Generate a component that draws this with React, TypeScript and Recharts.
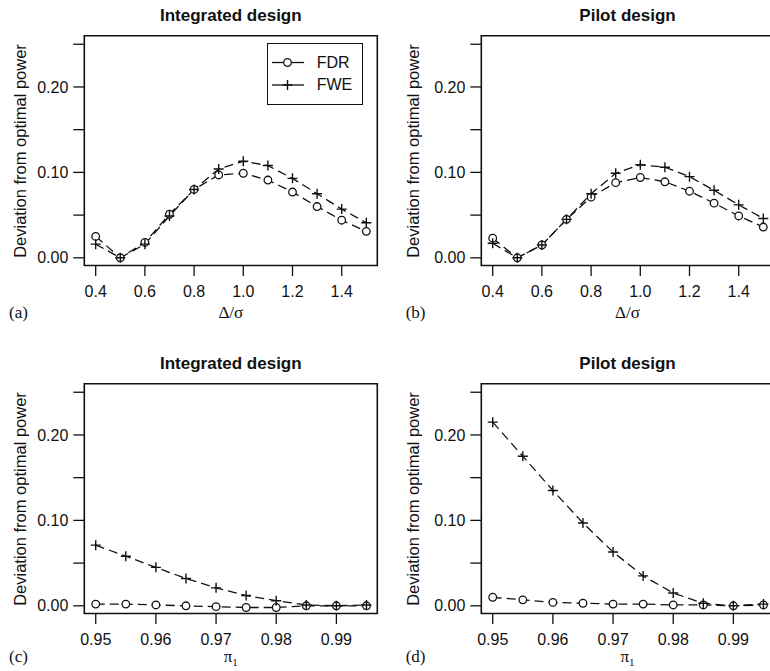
import React from 'react';
import { LineChart, Line, XAxis, YAxis, ReferenceArea } from 'recharts';

const deltaSigma = [0.4, 0.5, 0.6, 0.7, 0.8, 0.9, 1.0, 1.1, 1.2, 1.3, 1.4, 1.5];
const fdrIntegratedDelta = [0.025, 0.0, 0.018, 0.051, 0.08, 0.097, 0.099, 0.091, 0.077, 0.06, 0.044, 0.031];
const fweIntegratedDelta = [0.016, 0.0, 0.016, 0.049, 0.08, 0.104, 0.113, 0.108, 0.093, 0.075, 0.057, 0.041];
const fdrPilotDelta = [0.023, 0.0, 0.015, 0.045, 0.071, 0.088, 0.094, 0.089, 0.078, 0.064, 0.049, 0.036];
const fwePilotDelta = [0.017, 0.0, 0.015, 0.045, 0.075, 0.099, 0.109, 0.106, 0.095, 0.079, 0.062, 0.046];

const pi1 = [0.95, 0.955, 0.96, 0.965, 0.97, 0.975, 0.98, 0.985, 0.99, 0.995];
const fdrIntegratedPi = [0.002, 0.002, 0.001, 0.0, -0.001, -0.002, -0.002, 0.0, 0.0, 0.0];
const fweIntegratedPi = [0.071, 0.058, 0.045, 0.032, 0.021, 0.012, 0.006, 0.001, 0.0, 0.001];
const fdrPilotPi = [0.01, 0.007, 0.004, 0.003, 0.002, 0.002, 0.001, 0.001, 0.0, 0.001];
const fwePilotPi = [0.215, 0.175, 0.135, 0.097, 0.063, 0.035, 0.015, 0.003, 0.0, 0.002];

const deltaTicks = [0.4, 0.6, 0.8, 1.0, 1.2, 1.4];
const piTicks = [0.95, 0.96, 0.97, 0.98, 0.99];
const yTicks = [0, 0.05, 0.1, 0.15, 0.2, 0.25];

const SANS = '"Liberation Sans", Arial, Helvetica, sans-serif';
const SERIF = '"Liberation Serif", "Times New Roman", serif';
const INK = '#111';

const build = (xs: number[], fdr: number[], fwe: number[]) =>
  xs.map((x, i) => ({ x, fdr: fdr[i], fwe: fwe[i] }));

const CircleDot = (p: any) => {
  if (p.cx == null || p.cy == null) return <g key={p.index} />;
  return <circle key={p.index} cx={p.cx} cy={p.cy} r={3.8} fill="#fff" stroke={INK} strokeWidth={1.3} />;
};
const PlusDot = (p: any) => {
  if (p.cx == null || p.cy == null) return <g key={p.index} />;
  const s = 5;
  return (
    <path
      key={p.index}
      d={`M${p.cx - s},${p.cy}H${p.cx + s}M${p.cx},${p.cy - s}V${p.cy + s}`}
      stroke={INK}
      strokeWidth={1.4}
      fill="none"
    />
  );
};

const yFmt = (v: number) => (Math.round(v * 100) % 10 === 0 ? v.toFixed(2) : '');

type PanelProps = {
  dx: number;
  dy: number;
  data: { x: number; fdr: number; fwe: number }[];
  xDomain: [number, number];
  xTicks: number[];
  xDigits: number;
  title: string;
  xlabel: React.ReactNode;
  xlabelTop: number;
  letter: string;
  letterTop: number;
  ylabelX: number;
  legend?: boolean;
};

const Y_DOMAIN: [number, number] = [-0.009, 0.26];

function Panel({ dx, dy, data, xDomain, xTicks, xDigits, title, xlabel, xlabelTop, letter, letterTop, ylabelX, legend }: PanelProps) {
  const abs = (l: number, t: number): React.CSSProperties => ({ position: 'absolute', left: dx + l, top: dy + t });
  return (
    <>
      <div style={abs(0, 0)}>
        <LineChart width={390} height={335} data={data} margin={{ top: 35.7, right: 12.7, left: 0, bottom: 39.5 }}>
          <XAxis
            dataKey="x"
            type="number"
            domain={xDomain}
            allowDataOverflow
            ticks={xTicks}
            tickFormatter={(v: number) => v.toFixed(xDigits)}
            axisLine={false}
            tickSize={10.5}
            tickMargin={10}
            height={30}
            tickLine={{ stroke: INK, strokeWidth: 1.3 }}
            tick={{ fill: INK, fontSize: 16, fontFamily: SANS }}
            interval={0}
          />
          <YAxis
            type="number"
            domain={Y_DOMAIN}
            allowDataOverflow
            ticks={yTicks}
            tickFormatter={yFmt}
            axisLine={false}
            tickSize={11}
            tickMargin={5}
            width={84.3}
            tickLine={{ stroke: INK, strokeWidth: 1.3 }}
            tick={{ fill: INK, fontSize: 16, fontFamily: SANS }}
            interval={0}
          />
          <ReferenceArea
            x1={xDomain[0]}
            x2={xDomain[1]}
            y1={Y_DOMAIN[0]}
            y2={Y_DOMAIN[1]}
            fill="none"
            fillOpacity={0}
            stroke={INK}
            strokeWidth={1.6}
            ifOverflow="visible"
          />
          <Line
            dataKey="fwe"
            type="linear"
            stroke={INK}
            strokeWidth={1.3}
            strokeDasharray="9 5"
            dot={false}
            isAnimationActive={false}
          />
          <Line
            dataKey="fdr"
            type="linear"
            stroke={INK}
            strokeWidth={1.3}
            strokeDasharray="9 5"
            dot={CircleDot}
            isAnimationActive={false}
          />
          <Line
            dataKey="fwe"
            type="linear"
            stroke="none"
            dot={PlusDot}
            isAnimationActive={false}
          />
        </LineChart>
      </div>
      <div
        style={{
          ...abs(230.8, 5.5),
          transform: 'translateX(-50%)',
          fontFamily: SANS,
          fontWeight: 'bold',
          fontSize: 17,
          lineHeight: '20px',
          whiteSpace: 'nowrap',
          color: INK,
        }}
      >
        {title}
      </div>
      <div
        style={{
          ...abs(ylabelX, 150.6),
          transform: 'translate(-50%, -50%) rotate(-90deg)',
          fontFamily: SANS,
          fontSize: 16.5,
          lineHeight: '20px',
          whiteSpace: 'nowrap',
          color: INK,
        }}
      >
        Deviation from optimal power
      </div>
      <div
        style={{
          ...abs(230.8, xlabelTop),
          transform: 'translateX(-50%)',
          fontFamily: SERIF,
          fontSize: 17,
          lineHeight: '20px',
          whiteSpace: 'nowrap',
          color: INK,
        }}
      >
        {xlabel}
      </div>
      <div
        style={{
          ...abs(9, letterTop),
          fontFamily: SERIF,
          fontSize: 17,
          lineHeight: '20px',
          whiteSpace: 'nowrap',
          color: INK,
        }}
      >
        {letter}
      </div>
      {legend && (
        <div
          style={{
            ...abs(266.7, 43.3),
            width: 96,
            height: 62,
            border: `1.5px solid ${INK}`,
            boxSizing: 'border-box',
            background: '#fff',
          }}
        >
          <svg width={94} height={60} style={{ position: 'absolute', left: 0, top: 0 }}>
            <line x1={4} y1={18.5} x2={36} y2={18.5} stroke={INK} strokeWidth={1.3} />
            <circle cx={19.5} cy={18.5} r={3.8} fill="#fff" stroke={INK} strokeWidth={1.3} />
            <line x1={4} y1={41} x2={36} y2={41} stroke={INK} strokeWidth={1.3} />
            <path d="M14.5,41H24.5M19.5,36V46" stroke={INK} strokeWidth={1.4} fill="none" />
          </svg>
          <div style={{ position: 'absolute', left: 49, top: 8.5, fontFamily: SANS, fontSize: 16, lineHeight: '20px', color: INK }}>FDR</div>
          <div style={{ position: 'absolute', left: 49, top: 31, fontFamily: SANS, fontSize: 16, lineHeight: '20px', color: INK }}>FWE</div>
        </div>
      )}
    </>
  );
}

const piLabel = (
  <span>
    π<sub style={{ fontSize: 11, lineHeight: 0 }}>1</sub>
  </span>
);

export default function App() {
  const deltaDomain: [number, number] = [0.3537, 1.5447];
  const piDomain: [number, number] = [0.9481, 0.9968];
  return (
    <div style={{ position: 'absolute', left: 0, top: 0, width: 770, height: 671, overflow: 'hidden', background: '#fff' }}>
      <Panel
        dx={0}
        dy={0}
        data={build(deltaSigma, fdrIntegratedDelta, fweIntegratedDelta)}
        xDomain={deltaDomain}
        xTicks={deltaTicks}
        xDigits={1}
        title="Integrated design"
        xlabel="Δ/σ"
        xlabelTop={303}
        letter="(a)"
        letterTop={303}
        ylabelX={19.7}
        legend
      />
      <Panel
        dx={396.7}
        dy={0}
        data={build(deltaSigma, fdrPilotDelta, fwePilotDelta)}
        xDomain={deltaDomain}
        xTicks={deltaTicks}
        xDigits={1}
        title="Pilot design"
        xlabel="Δ/σ"
        xlabelTop={303}
        letter="(b)"
        letterTop={303}
        ylabelX={16.5}
      />
      <Panel
        dx={0}
        dy={348.3}
        data={build(pi1, fdrIntegratedPi, fweIntegratedPi)}
        xDomain={piDomain}
        xTicks={piTicks}
        xDigits={2}
        title="Integrated design"
        xlabel={piLabel}
        xlabelTop={299}
        letter="(c)"
        letterTop={298.5}
        ylabelX={19.7}
      />
      <Panel
        dx={396.7}
        dy={348.3}
        data={build(pi1, fdrPilotPi, fwePilotPi)}
        xDomain={piDomain}
        xTicks={piTicks}
        xDigits={2}
        title="Pilot design"
        xlabel={piLabel}
        xlabelTop={299}
        letter="(d)"
        letterTop={298.5}
        ylabelX={16.5}
      />
    </div>
  );
}
